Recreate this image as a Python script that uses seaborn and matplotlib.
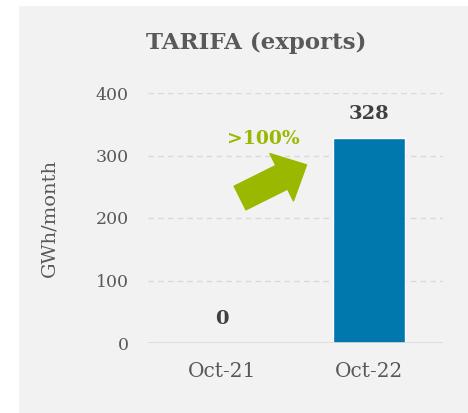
import matplotlib
matplotlib.use("Agg")
import matplotlib.pyplot as plt
import matplotlib.patches as mpatches
import seaborn as sns
import pandas as pd

# Datos
months = ["Oct-21", "Oct-22"]
exports_gwh = [0, 328]
y_ticks = [0, 100, 200, 300, 400]
change_label = ">100%"

df = pd.DataFrame({"month": months, "gwh": exports_gwh})

sns.set_style("white")
plt.rcParams["font.family"] = ["DejaVu Serif"]

text_grey = "#595959"
green = "#9BB800"
blue = "#0077AD"
grid_grey = "#D9D9D9"

fig = plt.figure(figsize=(4.68, 4.13), dpi=100)
fig.patch.set_facecolor("white")

# Panel gris de fondo
fig.patches.append(mpatches.Rectangle((19 / 468, 0), 1 - 19 / 468, 1 - 6 / 413,
                                      transform=fig.transFigure, facecolor="#F2F2F2",
                                      edgecolor="none", zorder=-10))

ax = fig.add_axes([148 / 468, 70 / 413, 295 / 468, 250 / 413])
ax.set_facecolor("none")

sns.barplot(data=df, x="month", y="gwh", color=blue, width=0.49,
            saturation=1, ax=ax, zorder=3)

ax.set_ylim(0, 400)
ax.set_xlim(-0.5, 1.5)
ax.set_yticks(y_ticks)
for t in y_ticks[1:]:
    ax.axhline(t, color=grid_grey, linestyle=(0, (4, 3)), linewidth=1, zorder=1)
ax.axhline(0, color=grid_grey, linewidth=1.2, zorder=4)

for s in ax.spines.values():
    s.set_visible(False)

ax.tick_params(axis="y", length=0, pad=14, labelsize=12.5, labelcolor=text_grey)
ax.tick_params(axis="x", length=0, pad=14, labelsize=14.5, labelcolor=text_grey)
ax.set_xlabel("")
ax.set_ylabel("GWh/month", fontsize=14, color=text_grey, labelpad=27)

# Etiquetas de valor
for i, v in enumerate(exports_gwh):
    ax.annotate(str(v), (i, v), xytext=(0, 11), textcoords="offset points",
                ha="center", va="bottom", fontsize=14, fontweight="bold",
                color="#404040", annotation_clip=False)

# Flecha de crecimiento
ax.annotate("", xy=(0.575, 285), xytext=(0.124, 232),
            arrowprops=dict(arrowstyle="simple,head_length=2.0,head_width=3.8,tail_width=1.9",
                            color=green, shrinkA=0, shrinkB=0, mutation_scale=10),
            annotation_clip=False)
ax.text(0.28, 326, change_label, ha="center", va="center", fontsize=13.5,
        fontweight="bold", color=green)

fig.text(256 / 468, 1 - 43 / 413, "TARIFA (exports)", ha="center", va="center",
         fontsize=16.5, fontweight="bold", color=text_grey)

plt.savefig("out.png", dpi=100)
